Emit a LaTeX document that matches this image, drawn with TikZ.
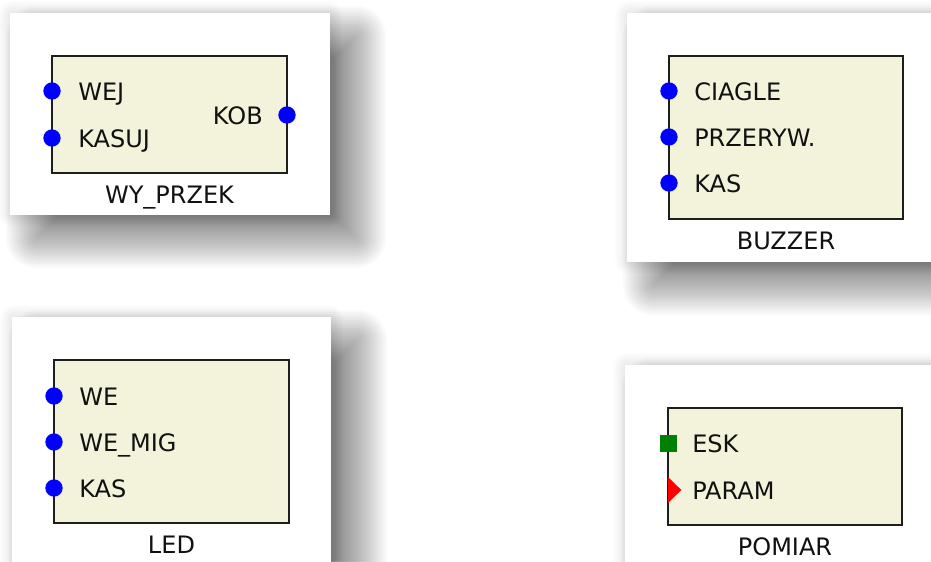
\documentclass[tikz,border=0pt]{standalone}
\usepackage{fontspec}
\setmainfont{DejaVu Sans}
\definecolor{blockfill}{HTML}{F3F3DC}
\definecolor{blockline}{HTML}{1E1E1E}
\definecolor{textc}{HTML}{111111}
\definecolor{pinblue}{HTML}{0000FF}
\definecolor{pingreen}{HTML}{008000}
\definecolor{pinred}{HTML}{FF0000}
\newcommand{\cardshadow}[4]{%
  \foreach \k [evaluate=\k as \r using {max(0.75*(30-2*\k),0.2)}] in {0,...,29}{%
    \fill[black,opacity=0.02,rounded corners=\r pt] ({#1+26-30+2*\k},{#2+23-30+2*\k}) rectangle ({#3+26+30-2*\k},{#4+23+30-2*\k});
  }%
  \foreach \k [evaluate=\k as \r using {max(0.75*(14-1.2*\k),0.2)}] in {0,...,9}{%
    \fill[black,opacity=0.008,rounded corners=\r pt] ({#1-12+1.2*\k},{#2-12+1.2*\k}) rectangle ({#3+12-1.2*\k},{#4+12-1.2*\k});
  }%
}
\tikzset{
  card/.style={fill=white, draw=none},
  blockbox/.style={draw=blockline, line width=1.5pt, fill=blockfill, inner sep=0pt},
  pinin/.style={circle, fill=pinblue, draw=none, inner sep=0pt, minimum size=13pt},
  pinsq/.style={rectangle, fill=pingreen, draw=none, inner sep=0pt, minimum size=12.75pt},
  lbl/.style={anchor=base west, inner sep=0pt, text=textc, font=\fontsize{18pt}{21pt}\selectfont},
  lblr/.style={lbl, anchor=base east},
  title/.style={lbl, anchor=base},
}
\begin{document}
\begin{tikzpicture}[x=0.75pt,y=-0.75pt]
\useasboundingbox (0,0) rectangle (931,561);
\clip (0,0) rectangle (931,561);
\fill[white] (0,0) rectangle (931,561);
% shadows
\cardshadow{10}{13}{330}{215}
\cardshadow{627}{13}{960}{262}
\cardshadow{12}{317}{331}{600}
\cardshadow{625}{365}{960}{600}
% cards
\fill[card] (10,13) rectangle (330,215);
\fill[card] (627,13) rectangle (960,262);
\fill[card] (12,317) rectangle (331,600);
\fill[card] (625,365) rectangle (960,600);
% ---- WY_PRZEK
\node[blockbox, minimum width=176.25pt, minimum height=87.75pt] (wy) at (169.5,114.5) {};
\node[pinin] (wywej) at (52,91) {};
\node[pinin] (wykas) at (52,138) {};
\node[pinin] (wykob) at (287,115) {};
\node[lbl] (wywejl) at (78,100) {WEJ};
\node[lbl] (wykasl) at (78,147) {KASUJ};
\node[lblr] (wykobl) at (263,124) {KOB};
\node[title] (wyt) at (169.5,203) {WY\_PRZEK};
% ---- BUZZER
\node[blockbox, minimum width=175.5pt, minimum height=122.25pt] (bz) at (786,137.5) {};
\node[pinin] (bzc) at (669,91) {};
\node[pinin] (bzp) at (669,137) {};
\node[pinin] (bzk) at (669,183) {};
\node[lbl] (bzcl) at (694,100) {CIAGLE};
\node[lbl] (bzpl) at (694,146) {PRZERYW.};
\node[lbl] (bzkl) at (694,192) {KAS};
\node[title] (bzt) at (786,249) {BUZZER};
% ---- LED
\node[blockbox, minimum width=176.25pt, minimum height=122.25pt] (led) at (171.5,441.5) {};
\node[pinin] (ledwe) at (54,396) {};
\node[pinin] (ledmig) at (54,442) {};
\node[pinin] (ledkas) at (54,488) {};
\node[lbl] (ledwel) at (79,405) {WE};
\node[lbl] (ledmigl) at (79,451) {WE\_MIG};
\node[lbl] (ledkasl) at (79,497) {KAS};
\node[title] (ledt) at (171.5,553) {LED};
% ---- POMIAR
\node[blockbox, minimum width=175.5pt, minimum height=87.75pt] (pm) at (785,466.5) {};
\node[pinsq] (pmesk) at (668,443.5) {};
\coordinate (pmpar) at (668,490);
\fill[pinred] ([yshift=-9.75pt]pmpar) -- ([xshift=10pt]pmpar) -- ([yshift=9.75pt]pmpar) -- cycle;
\node[lbl] (pmeskl) at (692,452.5) {ESK};
\node[lbl] (pmparl) at (692,499) {PARAM};
\node[title] (pmt) at (785,555) {POMIAR};
\end{tikzpicture}
\end{document}
